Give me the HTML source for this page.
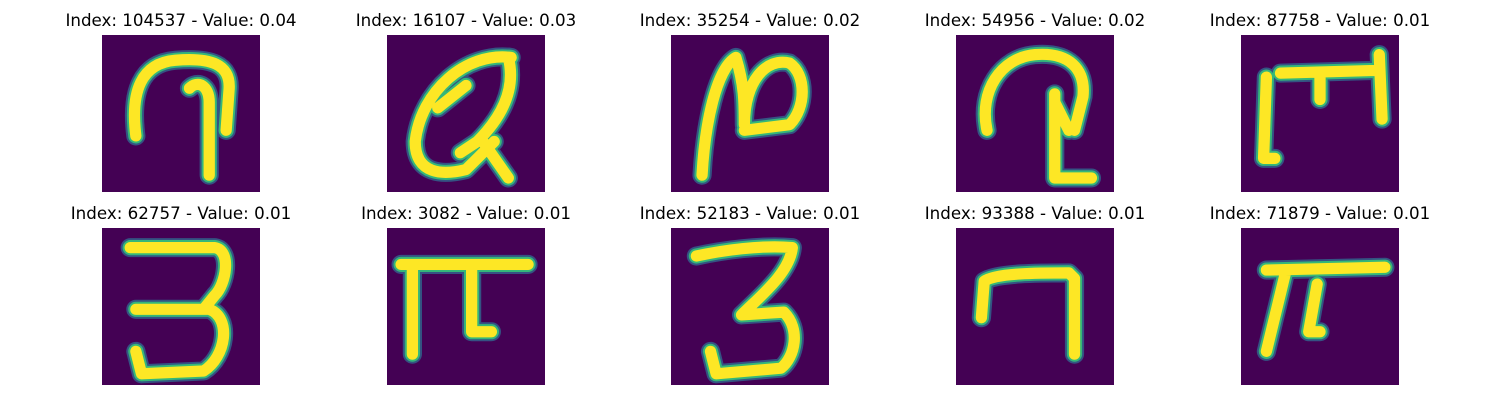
<!DOCTYPE html>
<html><head><meta charset="utf-8"><style>
body{margin:0;background:#fff;width:1500px;height:400px;overflow:hidden;font-family:"DejaVu Sans","Liberation Sans",sans-serif}
.cell{position:absolute;width:158px;height:157px}
.t{position:absolute;font-size:16.7px;color:#000;white-space:nowrap;transform:translateX(-50%)}
svg{display:block}
</style></head><body>
<div id="root"></div>
<script>
const indices=[104537,16107,35254,54956,87758,62757,3082,52183,93388,71879];
const values=["0.04","0.03","0.02","0.02","0.01","0.01","0.01","0.01","0.01","0.01"];
const strokes=[
 "M6 18 C5 10 7 5 13 4.5 C19 4 23 5 22.5 10 L22 17 M15.5 9.5 C17 8 19 9 19 12 L19 25",
 "M22 4 C14 3 6 10 5 19 C5 25 10 25 14 24 L19 19 M21.5 4 C23 10 20 15 16 19 L13 21 M17 19 L21.5 25.5 M9 13 L14 9",
 "M5.5 25 C6 16 8 6 11.5 4 C13 9 13 12 13 16 C13 8 17 4 21 5 C24 7 24 13 21 16 L13 17",
 "M5.5 17 C4 10 8 4 14 3.5 C20 3 23 6 22.5 11 L21 17 M17.5 10.5 L17.5 25.5 L24 25.5 M17.5 12 L20 17",
 "M7 6.8 L24.5 6.3 M24.5 3.5 L25 15 M4.5 7.5 L4 22 L6 22 M14 7 L14 11.5",
 "M5 3.5 L20 3.5 C23 4 22 10 20 12 L18 14.5 M6 14.5 L19 14.5 C23 16 22 23 18 25.5 L7 26 L6 22",
 "M2.5 6.5 L25 6.5 M4.5 6.5 L4.5 22.5 M15 7 L15 18.5 L18.5 18.5",
 "M4.5 5 C9 4 16 3 21.5 3.5 C21 8 16 12 12.5 15.5 L20 15 C23 18 22 23 19.5 25 L8 26 L7 22",
 "M4.5 16 L5 9.5 C7 8 15 8 20 8 L21 9 L21 22.5",
 "M4.5 7.5 L25.5 7 M8 7.5 L4.5 22 M13.5 10 L12 18.5 L14 18.5"
];
const xs=[102,387,671,956,1241];const ys=[35,228];
const root=document.getElementById('root');
for(let i=0;i<indices.length;i++){
 const x=xs[i%5],y=ys[Math.floor(i/5)];
 const t=document.createElement('div');t.className='t';
 
 
 t.style.left=(x+79)+'px';t.style.top=(y-25)+'px';
 t.textContent='Index: '+indices[i]+' - Value: '+values[i];root.appendChild(t);
 const c=document.createElement('div');c.className='cell';
 
 
 c.style.left=x+'px';c.style.top=y+'px';
 c.innerHTML='<svg width="158" height="157" viewBox="0 0 28 28" preserveAspectRatio="none"><rect width="28" height="28" fill="#440154"/>'+
 '<path d="'+strokes[i]+'" fill="none" stroke="#31688e" stroke-width="3.4" stroke-linecap="round" stroke-linejoin="round" opacity="0.8"/>'+
 '<path d="'+strokes[i]+'" fill="none" stroke="#35b779" stroke-width="2.7" stroke-linecap="round" stroke-linejoin="round"/>'+
 '<path d="'+strokes[i]+'" fill="none" stroke="#fde725" stroke-width="2.0" stroke-linecap="round" stroke-linejoin="round"/></svg>';
 root.appendChild(c);
}
</script>
</body></html>
